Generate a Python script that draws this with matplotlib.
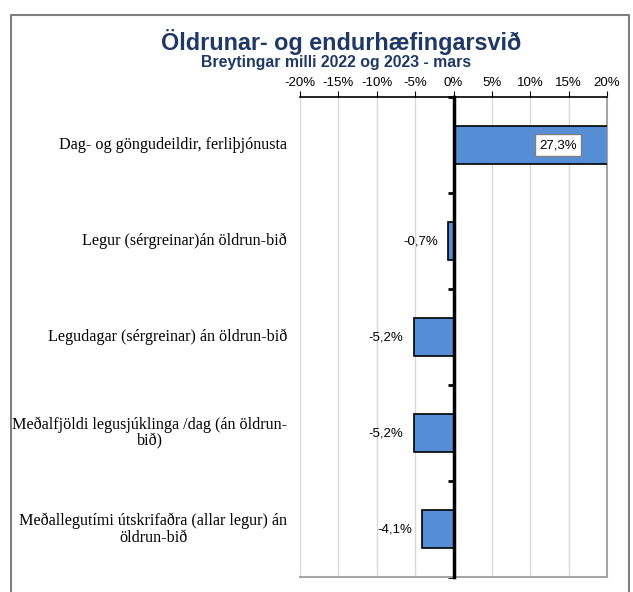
import matplotlib.pyplot as plt
from matplotlib.lines import Line2D
import numpy as np

categories = [
    "Dag- og göngudeildir, ferliþjónusta",
    "Legur (sérgreinar)án öldrun-bið",
    "Legudagar (sérgreinar) án öldrun-bið",
    "Meðalfjöldi legusjúklinga /dag (án öldrun-\nbið)",
    "Meðallegutími útskrifaðra (allar legur) án\nöldrun-bið",
]
values = [27.3, -0.7, -5.2, -5.2, -4.1]
ticks = [-20, -15, -10, -5, 0, 5, 10, 15, 20]
tick_labels = ["%d%%" % t for t in ticks]

title = "Öldrunar- og endurhæfingarsvið"
subtitle = "Breytingar milli 2022 og 2023 - mars"

navy = "#1F3864"
bar_col = "#558ED5"

fig = plt.figure(figsize=(6.33, 5.92), dpi=100)
ax = fig.add_axes([300/633, 1-577/592, 307/633, 480/592])

y = np.arange(len(values))
ax.barh(y, values, height=0.4, color=bar_col, edgecolor="black", linewidth=1.2, zorder=3)
ax.set_xlim(-20, 20)
ax.set_ylim(len(values)-0.5, -0.5)

ax.xaxis.tick_top()
ax.set_xticks(ticks)
ax.set_xticklabels(tick_labels, fontfamily="Liberation Sans", fontsize=9.5)
ax.tick_params(axis="x", direction="out", length=4, width=0.8, pad=2)
ax.grid(axis="x", color="#d9d9d9", linewidth=1, zorder=0)

# value axis spine at zero
ax.spines["left"].set_position(("data", 0))
ax.spines["left"].set_linewidth(2.5)
ax.spines["left"].set_zorder(4)
ax.set_yticks([])
ax.set_yticks(np.arange(len(values)+1) - 0.5, minor=True)
ax.tick_params(axis="y", which="minor", direction="out", length=4, width=2, labelleft=False)
ax.spines["top"].set_linewidth(1.2)
for s in ["right", "bottom"]:
    ax.spines[s].set_color("#a6a6a6")
    ax.spines[s].set_linewidth(1.5)

for i, lab in enumerate(categories):
    ax.text(-0.042, i, lab, transform=ax.get_yaxis_transform(), ha="right", va="center",
            multialignment="center", fontfamily="Liberation Serif", fontsize=11.6,
            linespacing=1.05)

xmax = ax.get_xlim()[1]
for i, v in enumerate(values):
    txt = ("%.1f%%" % v).replace(".", ",")
    if v > xmax:
        ax.annotate(txt, (xmax, i), xytext=(-49, 0), textcoords="offset pixels",
                    ha="center", va="center", fontfamily="Liberation Sans", fontsize=9.5,
                    bbox=dict(boxstyle="square,pad=0.35", fc="white", ec="#7f7f7f", lw=1), zorder=5)
    else:
        ax.annotate(txt, (v, i), xytext=(-10, 0), textcoords="offset pixels",
                    ha="right", va="center", fontfamily="Liberation Sans", fontsize=9.5, zorder=5)

fig.text(341/633, 1-42/592, title, ha="center", va="center", color=navy,
         fontfamily="Liberation Sans", fontweight="bold", fontsize=16.8)
fig.text(336/633, 1-62/592, subtitle, ha="center", va="center", color=navy,
         fontfamily="Liberation Sans", fontweight="bold", fontsize=11.4)

# outer chart border
bx = [11/633, 11/633, 629/633, 629/633]
by = [0, 1-15/592, 1-15/592, 0]
fig.add_artist(Line2D(bx, by, transform=fig.transFigure, color="#7f7f7f", lw=1.5))

fig.savefig("out.png", dpi=100)
